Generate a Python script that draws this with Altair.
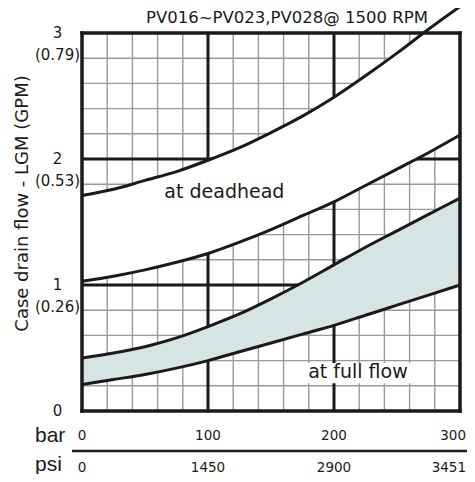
import altair as alt
import pandas as pd

# ---- data ----
bar = [0, 25, 50, 75, 100, 125, 150, 175, 200, 225, 250, 275, 300]
dead_hi = [1.71, 1.76, 1.83, 1.90, 1.99, 2.09, 2.21, 2.34, 2.49, 2.66, 2.84, 3.03, 3.21]
dead_lo = [1.03, 1.07, 1.12, 1.18, 1.25, 1.34, 1.44, 1.55, 1.66, 1.79, 1.92, 2.05, 2.19]
full_hi = [0.42, 0.46, 0.51, 0.58, 0.67, 0.77, 0.89, 1.02, 1.16, 1.30, 1.43, 1.56, 1.69]
full_lo = [0.21, 0.25, 0.29, 0.34, 0.40, 0.47, 0.54, 0.61, 0.68, 0.76, 0.84, 0.92, 1.00]

bar_ticks = [0, 100, 200, 300]
psi_labels = ["0", "1450", "2900", "3451"]
lgm_ticks = [0, 1, 2, 3]
gpm_labels = ["", "(0.26)", "(0.53)", "(0.79)"]
unit_names = ["bar", "psi"]

minor_bar = list(range(0, 301, 20))
minor_lgm = [i / 5 for i in range(16)]
major_bar = [100, 200]
major_lgm = [1, 2]
frame_bar = [0, 300]
frame_lgm = [0, 3]

label_text = ["at deadhead", "at full flow"]
label_bar = [113, 219]
label_lgm = [1.69, 0.262]
box_bar = [175, 262]
box_lgm = [0.22, 0.38]

title_text = "PV016~PV023,PV028@ 1500 RPM"
y_title = "Case drain flow - LGM (GPM)"

FONT = "DejaVu Sans"
INK = "#1a1a1a"
W = 378
H = 378
PAD = {"left": 74, "top": 25, "right": 7, "bottom": 63}

xs = alt.Scale(domain=[0, 300], nice=False, zero=False)
ys = alt.Scale(domain=[0, 3], nice=False, zero=False)


def X(field, **kw):
    return alt.X(field, type="quantitative", scale=xs, axis=None, **kw)


def Y(field, **kw):
    return alt.Y(field, type="quantitative", scale=ys, axis=None, **kw)


curves = pd.DataFrame({"bar": bar, "dead_hi": dead_hi, "dead_lo": dead_lo,
                       "full_hi": full_hi, "full_lo": full_lo})
long = curves.melt("bar", var_name="curve", value_name="lgm")

minor_v = alt.Chart(pd.DataFrame({"v": minor_bar})).mark_rule(
    color="#999999", strokeWidth=1.4).encode(x=X("v"))
minor_h = alt.Chart(pd.DataFrame({"v": minor_lgm})).mark_rule(
    color="#999999", strokeWidth=1.4).encode(y=Y("v"))
major_v = alt.Chart(pd.DataFrame({"v": major_bar})).mark_rule(
    color=INK, strokeWidth=3).encode(x=X("v"))
major_h = alt.Chart(pd.DataFrame({"v": major_lgm})).mark_rule(
    color=INK, strokeWidth=3).encode(y=Y("v"))

dead_band = alt.Chart(curves).mark_area(interpolate="monotone", color="white", opacity=1).encode(
    x=X("bar"), y=Y("dead_hi"), y2=alt.Y2("dead_lo"))
full_band = alt.Chart(curves).mark_area(interpolate="monotone", color="#d6e4e4", opacity=1).encode(
    x=X("bar"), y=Y("full_hi"), y2=alt.Y2("full_lo"))

box = alt.Chart(pd.DataFrame({"x1": [box_bar[0]], "x2": [box_bar[1]],
                              "y1": [box_lgm[0]], "y2": [box_lgm[1]]})).mark_rect(
    color="white").encode(x=X("x1"), x2="x2", y=Y("y1"), y2="y2")

frame_v = alt.Chart(pd.DataFrame({"v": frame_bar})).mark_rule(
    color=INK, strokeWidth=3.5, strokeCap="square").encode(x=X("v"))
frame_h = alt.Chart(pd.DataFrame({"v": frame_lgm})).mark_rule(
    color=INK, strokeWidth=3.5, strokeCap="square").encode(y=Y("v"))

lines = alt.Chart(long).mark_line(interpolate="monotone", strokeWidth=3, color=INK).encode(
    x=X("bar"), y=Y("lgm"), detail="curve:N")

labels = alt.Chart(pd.DataFrame({"t": label_text, "x": label_bar, "y": label_lgm})).mark_text(
    font=FONT, fontSize=19, align="center", baseline="alphabetic", color=INK).encode(
    x=X("x"), y=Y("y"), text="t:N")

# ---- axis labels (positioned through the scales) ----
ytick_df = pd.DataFrame({"v": lgm_ticks, "t": [str(v) for v in lgm_ticks], "g": gpm_labels})
ytick_num = alt.Chart(ytick_df).mark_text(
    font=FONT, fontSize=15, align="center", baseline="alphabetic", color=INK, dy=5).encode(
    x=alt.value(-24.5), y=Y("v"), text="t:N")
ytick_gpm = alt.Chart(ytick_df).mark_text(
    font=FONT, fontSize=15, align="center", baseline="alphabetic", color=INK, dy=27).encode(
    x=alt.value(-24.5), y=Y("v"), text="g:N")

xtick_df = pd.DataFrame({"v": bar_ticks, "t": [str(v) for v in bar_ticks], "p": psi_labels})
last_tick = f"datum.v == {bar_ticks[-1]}"
inner_tick = f"datum.v != {bar_ticks[-1]}"
tick_style = dict(font=FONT, fontSize=13.5, baseline="alphabetic", color=INK)

xtick_bar = alt.Chart(xtick_df).transform_filter(inner_tick).mark_text(
    align="center", **tick_style).encode(x=X("v"), y=alt.value(H + 29), text="t:N")
xtick_psi = alt.Chart(xtick_df).transform_filter(inner_tick).mark_text(
    align="center", **tick_style).encode(x=X("v"), y=alt.value(H + 61), text="p:N")
# the last column of labels sits against the right edge of the picture
xtick_bar_end = alt.Chart(xtick_df).transform_filter(last_tick).mark_text(
    align="right", dx=PAD["right"] - 1, **tick_style).encode(
    x=X("v"), y=alt.value(H + 29), text="t:N")
xtick_psi_end = alt.Chart(xtick_df).transform_filter(last_tick).mark_text(
    align="right", dx=PAD["right"] - 1, **tick_style).encode(
    x=X("v"), y=alt.value(H + 61), text="p:N")

unit_bar = alt.Chart(pd.DataFrame({"t": [unit_names[0]]})).mark_text(
    font="Liberation Sans", fontSize=21, align="left", baseline="alphabetic", color=INK).encode(
    x=alt.value(-47), y=alt.value(H + 31), text="t:N")
unit_psi = alt.Chart(pd.DataFrame({"t": [unit_names[1]]})).mark_text(
    font="Liberation Sans", fontSize=21, align="left", baseline="alphabetic", color=INK).encode(
    x=alt.value(-47), y=alt.value(H + 60), text="t:N")

separator = alt.Chart(pd.DataFrame({"k": [0]})).mark_rule(color=INK, strokeWidth=2.5).encode(
    x=alt.value(-10), x2=alt.value(W + PAD["right"]), y=alt.value(H + 40))

ytitle = alt.Chart(pd.DataFrame({"t": [y_title]})).mark_text(
    font=FONT, fontSize=18, align="center", baseline="middle", angle=270, color=INK).encode(
    x=alt.value(-59), y=alt.value(170.5), text="t:N")

ctitle = alt.Chart(pd.DataFrame({"t": [title_text]})).mark_text(
    font=FONT, fontSize=16.5, align="center", baseline="alphabetic", color=INK).encode(
    x=alt.value(205), y=alt.value(-10.5), text="t:N")

chart = alt.layer(
    minor_v, minor_h, major_v, major_h, dead_band, full_band, box,
    frame_v, frame_h, lines, labels,
    ytick_num, ytick_gpm, xtick_bar, xtick_psi, xtick_bar_end, xtick_psi_end,
    unit_bar, unit_psi, separator, ytitle, ctitle,
).properties(
    width=W, height=H,
    autosize=alt.AutoSizeParams(type="none"),
    padding=PAD,
).configure_view(stroke=None).configure(background="white")

chart.save("out.html", embed_options={"renderer": "svg", "actions": False})
